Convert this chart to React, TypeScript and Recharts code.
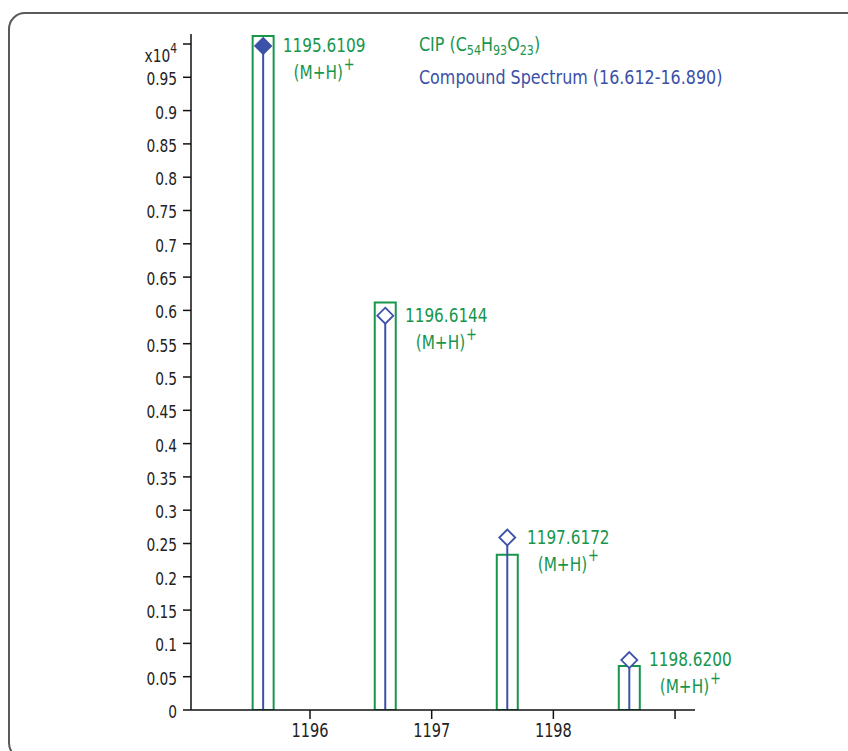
import React from 'react';
import {
  ComposedChart,
  Bar,
  XAxis,
  YAxis,
  LabelList,
} from 'recharts';

// peak positions (m/z) and intensities (x10^4)
const mzValues = [1195.6109, 1196.6144, 1197.6172, 1198.62];
const cipIntensity = [1.012, 0.612, 0.233, 0.066];
const spectrumIntensity = [0.997, 0.592, 0.259, 0.075];
const peakLabels = ['1195.6109', '1196.6144', '1197.6172', '1198.6200'];
const adductLabel = '(M+H)';

const xTicks = [1196, 1197, 1198, 1199];
const xTickLabels = ['1196', '1197', '1198', ''];
const yTicks = [
  0, 0.05, 0.1, 0.15, 0.2, 0.25, 0.3, 0.35, 0.4, 0.45, 0.5, 0.55, 0.6, 0.65,
  0.7, 0.75, 0.8, 0.85, 0.9, 0.95, 1,
];

const data = mzValues.map((mz, i) => ({
  mz,
  cip: cipIntensity[i],
  spectrum: spectrumIntensity[i],
  label: peakLabels[i],
}));

const GREEN = '#17964c';
const BLUE = '#3c51a8';
const FONT = "'DejaVu Sans Condensed', 'DejaVu Sans', sans-serif";
const SQUEEZE = 0.85; // the original uses a condensed face

const YTick = (props: any) => {
  const { x, y, payload } = props;
  if (payload.value === 1) {
    return (
      <text
        transform={`translate(${x},${y + 18}) scale(${SQUEEZE},1)`}
        textAnchor="end"
        fontSize={18}
        fill="#222"
        fontFamily={FONT}
      >
        x10
        <tspan dy={-9} fontSize={14}>4</tspan>
      </text>
    );
  }
  return (
    <text
      transform={`translate(${x},${y + 8}) scale(${SQUEEZE},1)`}
      textAnchor="end"
      fontSize={18}
      fill="#222"
      fontFamily={FONT}
    >
      {String(Number(payload.value.toFixed(2)))}
    </text>
  );
};

const XTick = (props: any) => {
  const { x, y, payload } = props;
  const idx = xTicks.indexOf(payload.value);
  return (
    <text
      transform={`translate(${x},${y + 16}) scale(${SQUEEZE},1)`}
      textAnchor="middle"
      fontSize={19}
      fill="#222"
      fontFamily={FONT}
    >
      {xTickLabels[idx]}
    </text>
  );
};

// blue stem with a diamond on top
const Stem = (props: any) => {
  const { x, y, width, height, index } = props;
  const cx = x + width / 2;
  const r = 8;
  const filled = index === 0;
  return (
    <g>
      <line x1={cx} y1={y + (filled ? 0 : r)} x2={cx} y2={y + height} stroke={BLUE} strokeWidth={2} />
      <path
        d={`M${cx},${y - r} L${cx + r},${y} L${cx},${y + r} L${cx - r},${y} Z`}
        fill={filled ? BLUE : '#fff'}
        stroke={BLUE}
        strokeWidth={1.8}
      />
    </g>
  );
};

const PeakLabel = (props: any) => {
  const { x, y, width, value } = props;
  const tx = x + width / 2 + 61;
  return (
    <text
      transform={`translate(${tx},${y}) scale(${SQUEEZE},1)`}
      textAnchor="middle"
      fontSize={20}
      fill={GREEN}
      fontFamily={FONT}
    >
      <tspan x={0} y={6}>{value}</tspan>
      <tspan x={0} y={33}>
        {adductLabel}
        <tspan dx={1} dy={-9} fontSize={17}>+</tspan>
      </tspan>
    </text>
  );
};

const sub = { fontSize: 14, verticalAlign: -4 } as const;

export default function App() {
  return (
    <div
      style={{
        position: 'fixed',
        left: 0,
        top: 0,
        width: 848,
        height: 751,
        overflow: 'hidden',
        background: '#fff',
      }}
    >
      <div
        style={{
          position: 'absolute',
          left: 8,
          top: 12,
          width: 900,
          height: 748,
          border: '2px solid #5a5a5a',
          borderRadius: 17,
          boxSizing: 'border-box',
        }}
      />
      <div
        style={{
          position: 'absolute',
          left: 419,
          top: 31,
          fontFamily: FONT,
          fontSize: 20,
          lineHeight: '27px',
          whiteSpace: 'nowrap',
          transform: 'scaleX(0.885)',
          transformOrigin: 'left top',
        }}
      >
        <div style={{ color: GREEN }}>
          CIP (C<sub style={sub}>54</sub>H<sub style={sub}>93</sub>O<sub style={sub}>23</sub>)
        </div>
        <div style={{ color: BLUE }}>Compound Spectrum (16.612-16.890)</div>
      </div>
      <div style={{ position: 'absolute', left: 0, top: 0 }}>
        <ComposedChart
          width={848}
          height={751}
          data={data}
          margin={{ top: 34, right: 153, bottom: 0, left: 0 }}
        >
          <XAxis
            xAxisId="mz"
            dataKey="mz"
            type="number"
            domain={[1195.022, 1199.164]}
            ticks={xTicks}
            tick={<XTick />}
            tickSize={9}
            height={41}
            axisLine={{ stroke: '#111', strokeWidth: 1.5 }}
            tickLine={{ stroke: '#111', strokeWidth: 1.5 }}
            allowDataOverflow
          />
          <XAxis
            xAxisId="stem"
            dataKey="mz"
            type="number"
            domain={[1195.022, 1199.164]}
            hide
            allowDataOverflow
          />
          <YAxis
            type="number"
            domain={[0, 1.015]}
            ticks={yTicks}
            tick={<YTick />}
            tickSize={8}
            tickMargin={6}
            width={191}
            axisLine={{ stroke: '#111', strokeWidth: 1.5 }}
            tickLine={{ stroke: '#111', strokeWidth: 1.5 }}
            interval={0}
            allowDataOverflow
          />
          <Bar
            xAxisId="mz"
            dataKey="cip"
            barSize={21}
            fill="none"
            stroke={GREEN}
            strokeWidth={2}
            isAnimationActive={false}
          />
          <Bar
            xAxisId="stem"
            dataKey="spectrum"
            barSize={21}
            shape={<Stem />}
            isAnimationActive={false}
          >
            <LabelList dataKey="label" content={<PeakLabel />} />
          </Bar>
        </ComposedChart>
      </div>
    </div>
  );
}
